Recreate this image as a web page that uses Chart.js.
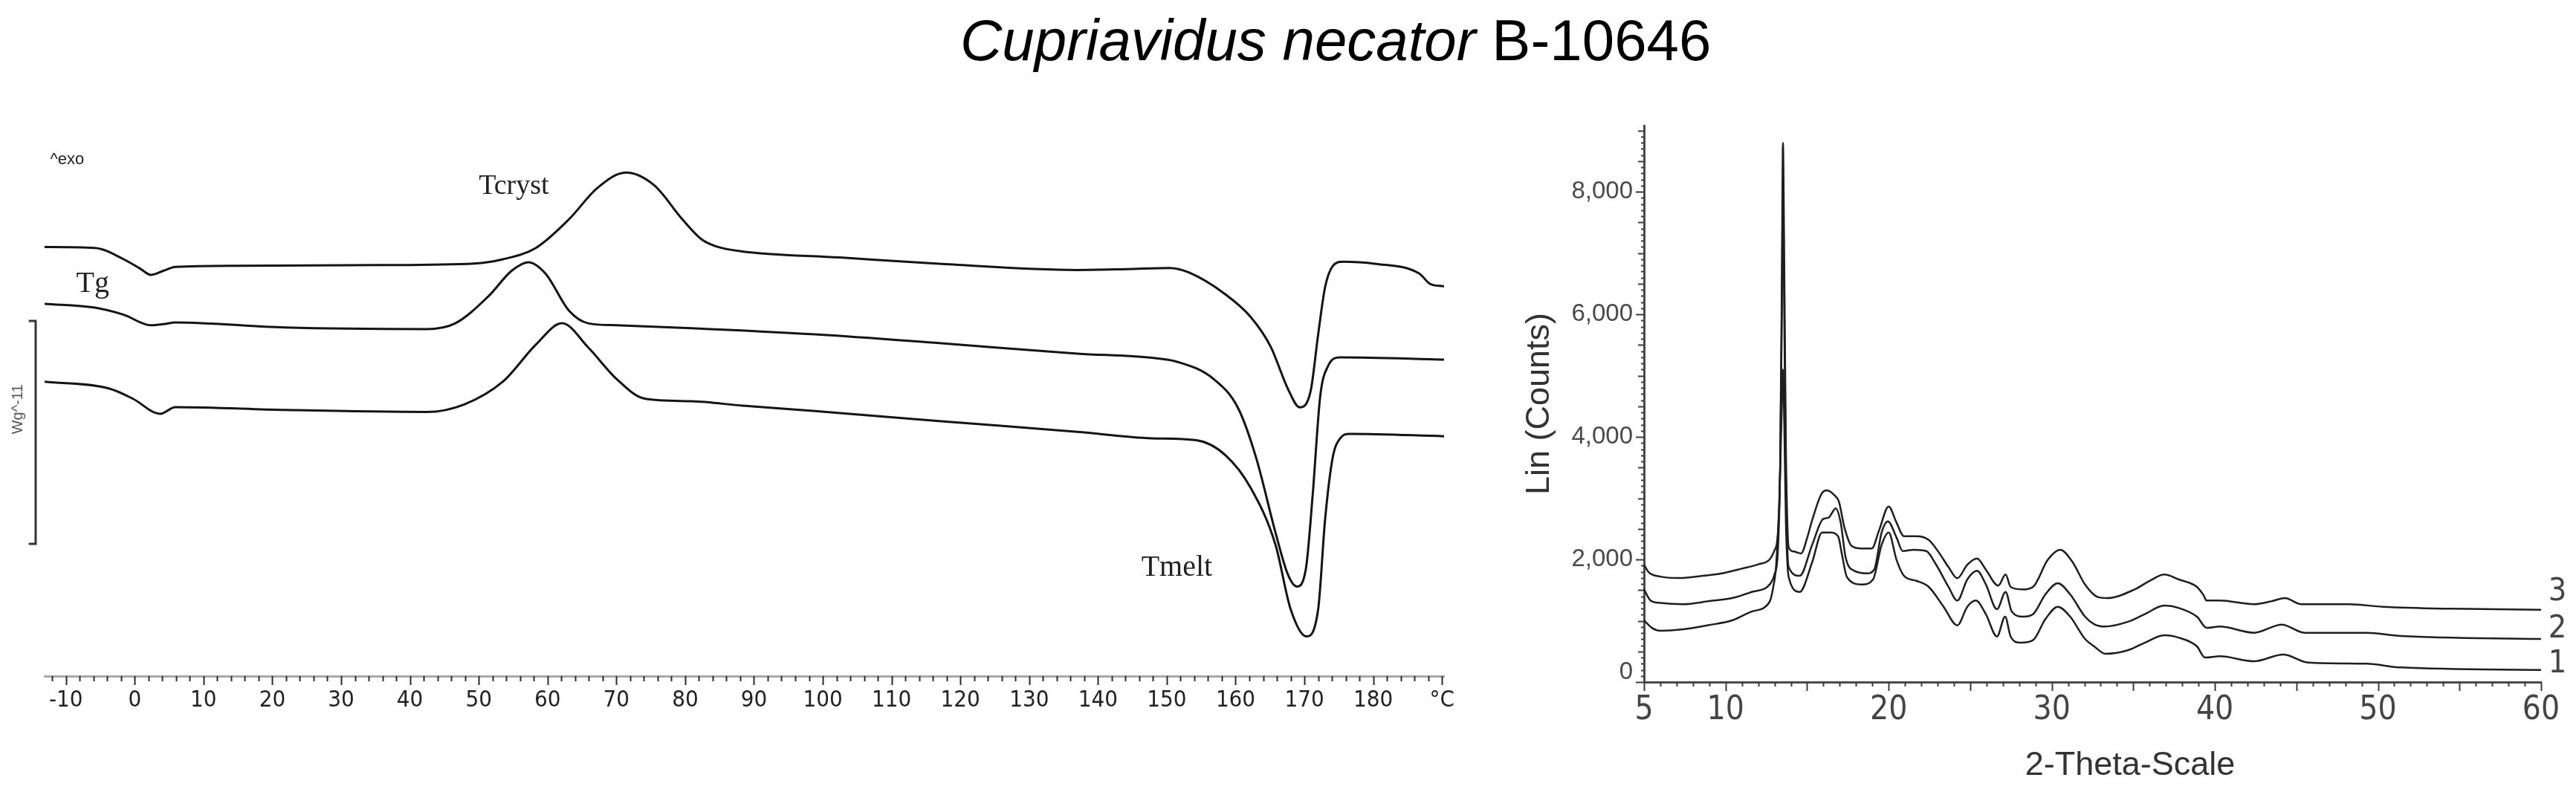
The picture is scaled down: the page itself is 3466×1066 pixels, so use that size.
<!DOCTYPE html>
<html>
<head>
<meta charset="utf-8">
<script src="https://cdn.jsdelivr.net/npm/chart.js@4.4.1/dist/chart.umd.min.js"></script>
<style>
  html, body { margin:0; padding:0; background:#ffffff; }
  body { width:3466px; height:1066px; position:relative; overflow:hidden; }
  #title { position:absolute; left:1292px; top:15px; font-family:'Liberation Sans', Arial, sans-serif; font-size:78px; line-height:78px; color:#000; white-space:nowrap; }
  #dsc { position:absolute; left:0; top:0; }
  #xrd { position:absolute; left:2000px; top:0; }
</style>
</head>
<body>
<div id="title"><i>Cupriavidus necator</i> B-10646</div>
<canvas id="dsc" width="1980" height="1066" style="width:1980px;height:1066px"></canvas>
<canvas id="xrd" width="1466" height="1066" style="width:1466px;height:1066px"></canvas>
<script>
// ---------- DSC data: temperature (°C), heat flow (W/g, offset traces) ----------
const dscTop = [[-13.1,1.925],[-5.8,1.921],[-1.6,1.870],[0.8,1.828],[2.35,1.800],[4.2,1.819],[5.9,1.836],[14.9,1.841],[35.5,1.844],[49.3,1.851],[53.5,1.870],[58.3,1.921],[63.1,2.049],[67.2,2.189],[71.4,2.259],[75.5,2.202],[79.6,2.049],[82.4,1.959],[84.5,1.928],[88.1,1.906],[102.5,1.878],[116.9,1.850],[137.0,1.822],[144.2,1.826],[150.4,1.831],[153.2,1.811],[158.6,1.711],[162.2,1.611],[165.1,1.478],[167.6,1.289],[169.3,1.206],[170.9,1.278],[172.0,1.533],[173.0,1.744],[174.1,1.839],[175.6,1.859],[180.2,1.850],[186.7,1.806],[188.2,1.761],[190.3,1.748]];
const dscMid = [[-13.1,1.670],[-5.8,1.653],[-1.6,1.621],[2.35,1.574],[4.2,1.579],[5.9,1.587],[21.8,1.564],[42.4,1.557],[46.6,1.583],[51.4,1.704],[54.8,1.819],[57.2,1.857],[59.7,1.806],[63.1,1.640],[65.9,1.583],[70.0,1.574],[80.9,1.561],[98.9,1.533],[116.9,1.494],[137.0,1.447],[147.8,1.428],[151.4,1.411],[156.8,1.333],[160.4,1.200],[163.0,0.978],[165.8,0.644],[167.6,0.456],[168.9,0.402],[170.2,0.478],[171.2,0.811],[172.3,1.256],[173.4,1.389],[175.2,1.430],[190.3,1.420]];
const dscBot = [[-13.1,1.321],[-3.7,1.290],[-0.3,1.245],[3.7,1.177],[5.9,1.207],[21.8,1.194],[42.4,1.185],[47.9,1.219],[53.5,1.321],[58.3,1.487],[62.1,1.583],[65.9,1.475],[70.0,1.334],[74.1,1.245],[80.9,1.233],[88.4,1.213],[98.9,1.189],[116.9,1.144],[137.0,1.096],[147.8,1.067],[154.3,1.058],[158.6,0.989],[162.2,0.844],[165.8,0.589],[168.0,0.300],[170.3,0.178],[172.0,0.300],[173.0,0.700],[174.1,0.978],[175.2,1.067],[176.6,1.087],[190.3,1.076]];
const dscTickValues = [-10,0,10,20,30,40,50,60,70,80,90,100,110,120,130,140,150,160,170,180,190];
const dscTickLabels = ['-10','0','10','20','30','40','50','60','70','80','90','100','110','120','130','140','150','160','170','180','°C'];
const dscNotes = [
  {text:'^exo',   x:-12.3, y:2.317, font:"22px 'Liberation Sans', Arial, sans-serif", base:'middle'},
  {text:'Tcryst', x:50.0,  y:2.163, font:"38px 'Liberation Serif', 'Times New Roman', serif", base:'alphabetic'},
  {text:'Tg',     x:-8.5,  y:1.723, font:"40px 'Liberation Serif', 'Times New Roman', serif", base:'alphabetic'},
  {text:'Tmelt',  x:146.3, y:0.450, font:"40px 'Liberation Serif', 'Times New Roman', serif", base:'alphabetic'}
];
const dscScaleBar = {x:-14.4, tickTo:-15.4, from:0.593, to:1.593, label:'Wg^-11', labelX:-16.9, labelY:1.197};

// ---------- XRD data: 2-theta (deg), counts ----------
const xrd3 = [[5.0,1915],[5.3,1790],[6.0,1720],[7.2,1697],[8.5,1730],[9.7,1770],[11.0,1850],[12.0,1920],[12.7,2000],[13.0,2150],[13.2,2400],[13.35,3600],[13.45,6500],[13.52,8800],[13.6,6800],[13.7,3800],[13.8,2500],[13.87,2198],[14.2,2130],[14.63,2097],[15.0,2350],[15.31,2642],[15.92,3087],[16.22,3127],[16.68,3046],[16.95,2945],[17.29,2521],[17.74,2218],[18.35,2178],[18.96,2178],[19.42,2481],[20.0,2865],[20.48,2602],[20.94,2380],[21.7,2380],[22.46,2319],[23.07,2117],[23.67,1875],[24.21,1693],[24.82,1915],[25.42,2016],[25.96,1834],[26.72,1572],[27.17,1754],[27.48,1552],[28.24,1511],[28.85,1552],[29.76,1996],[30.52,2158],[31.28,1955],[32.04,1592],[32.8,1390],[33.41,1370],[35.08,1511],[36.0,1650],[36.9,1754],[37.8,1673],[38.9,1552],[39.3,1420],[39.5,1329],[40.3,1329],[42.4,1269],[43.5,1320],[44.3,1370],[45.3,1269],[48.2,1269],[50.3,1228],[54.5,1196],[60.0,1180]];
const xrd2 = [[5.0,1515],[5.4,1330],[6.0,1290],[7.4,1270],[9.0,1320],[10.4,1370],[11.6,1470],[12.7,1590],[13.0,1757],[13.2,2100],[13.35,3500],[13.45,6000],[13.52,8150],[13.6,6000],[13.7,3300],[13.8,2100],[13.87,1875],[14.55,1733],[15.31,2238],[15.99,2663],[16.3,2680],[16.76,2835],[17.06,2600],[17.36,2036],[17.9,1814],[18.66,1774],[19.11,1834],[19.57,2440],[19.95,2622],[20.48,2360],[20.86,2137],[21.55,2158],[22.31,2137],[22.91,1915],[23.67,1552],[24.21,1329],[24.82,1673],[25.42,1814],[25.96,1592],[26.64,1188],[27.17,1471],[27.55,1148],[28.24,1067],[28.85,1107],[29.61,1430],[30.37,1612],[31.13,1430],[32.04,1067],[32.6,945],[33.25,905],[34.7,986],[35.7,1107],[36.9,1248],[37.8,1208],[38.9,1067],[39.5,885],[40.3,905],[42.4,804],[44.1,937],[45.5,804],[49.3,804],[51.4,752],[60.0,703]];
const xrd1 = [[5.0,1006],[5.5,880],[6.0,836],[7.4,860],[9.0,930],[10.4,1006],[11.6,1150],[12.7,1309],[12.9,1515],[13.1,1900],[13.3,3000],[13.45,4500],[13.52,5100],[13.6,4200],[13.7,2600],[13.8,1900],[13.87,1713],[14.55,1471],[15.31,1955],[15.92,2440],[16.4,2440],[16.9,2380],[17.14,2076],[17.44,1713],[18.35,1592],[19.04,1673],[19.57,2238],[20.0,2440],[20.48,1996],[20.94,1733],[21.7,1652],[22.46,1552],[23.37,1228],[24.21,925],[24.82,1228],[25.35,1329],[25.96,1107],[26.64,743],[27.14,1067],[27.48,743],[28.08,642],[28.85,683],[29.61,1027],[30.37,1228],[31.13,1067],[32.04,703],[32.6,582],[33.3,461],[34.7,521],[35.7,642],[36.9,764],[37.8,723],[38.9,582],[39.4,400],[40.3,420],[42.4,339],[44.2,448],[45.7,319],[49.3,299],[51.4,238],[60.0,198]];
const xrdXTicks = [5,10,20,30,40,50,60];
const xrdXLabels = ['5','10','20','30','40','50','60'];
const xrdYTicks = [0,2000,4000,6000,8000];
const xrdYLabels = ['0','2,000','4,000','6,000','8,000'];
const xrdSeriesLabels = [{text:'3', x:61.0, y:1467},{text:'2', x:61.0, y:861},{text:'1', x:61.0, y:291}];
const xrdXTitle = {text:'2-Theta-Scale', x:34.8, y:-1370};

const NARROW = "'Liberation Sans Narrow', 'DejaVu Sans Condensed', 'Liberation Sans', sans-serif";
const SANS = "'Liberation Sans', Arial, sans-serif";
const toXY = arr => arr.map(([x, y]) => ({x, y}));

// ---------- DSC chart ----------
const dscExtras = {
  id: 'dscExtras',
  afterDraw(chart) {
    const {ctx, chartArea} = chart;
    const x = chart.scales.x, y = chart.scales.y;
    ctx.save();
    ctx.strokeStyle = '#2b2b2b';
    ctx.lineWidth = 2;
    const ay = chartArea.bottom;
    for (let t = -12; t <= 190; t += 2) {
      const px = Math.round(x.getPixelForValue(t)) + 0.5;
      const len = (t % 10 === 0) ? 12 : 7;
      ctx.beginPath(); ctx.moveTo(px, ay); ctx.lineTo(px, ay + len); ctx.stroke();
    }
    ctx.fillStyle = '#222';
    dscNotes.forEach(n => {
      ctx.font = n.font; ctx.textAlign = 'left'; ctx.textBaseline = n.base;
      ctx.fillText(n.text, x.getPixelForValue(n.x), y.getPixelForValue(n.y));
    });
    const bx = x.getPixelForValue(dscScaleBar.x), tx = x.getPixelForValue(dscScaleBar.tickTo);
    const y1 = y.getPixelForValue(dscScaleBar.to), y0 = y.getPixelForValue(dscScaleBar.from);
    ctx.strokeStyle = '#333'; ctx.lineWidth = 3;
    ctx.beginPath(); ctx.moveTo(tx, y1); ctx.lineTo(bx, y1); ctx.lineTo(bx, y0); ctx.lineTo(tx, y0); ctx.stroke();
    ctx.save();
    ctx.translate(x.getPixelForValue(dscScaleBar.labelX), y.getPixelForValue(dscScaleBar.labelY));
    ctx.rotate(-Math.PI / 2);
    ctx.font = "20px " + SANS; ctx.fillStyle = '#555'; ctx.textAlign = 'center'; ctx.textBaseline = 'middle';
    ctx.fillText(dscScaleBar.label, 0, 0);
    ctx.restore();
    ctx.restore();
  }
};

const dscLine = {borderColor:'#141414', borderWidth:3, pointRadius:0, fill:false, cubicInterpolationMode:'monotone'};
new Chart(document.getElementById('dsc'), {
  type: 'line',
  data: { datasets: [
    Object.assign({label:'top', data: toXY(dscTop)}, dscLine),
    Object.assign({label:'middle', data: toXY(dscMid)}, dscLine),
    Object.assign({label:'bottom', data: toXY(dscBot)}, dscLine)
  ]},
  options: {
    responsive:false, animation:false, events:[],
    layout: { autoPadding:false, padding:{left:60, right:37, top:150, bottom:0} },
    plugins: { legend:{display:false}, tooltip:{enabled:false}, title:{display:false} },
    scales: {
      x: {
        type:'linear', min:-13.1, max:190.3, position:'bottom',
        afterBuildTicks: s => { s.ticks = dscTickValues.map(v => ({value:v})); },
        afterFit: s => { s.height = 156; },
        grid: { display:false, drawTicks:false },
        border: { display:true, color:'#a9a9a9', width:3 },
        ticks: { autoSkip:false, maxRotation:0, minRotation:0, padding:14, color:'#222',
          font:{ family:NARROW, size:31 },
          callback: (v, i) => dscTickLabels[i] }
      },
      y: { type:'linear', display:false, min:0, max:2.5333 }
    }
  },
  plugins: [dscExtras]
});

// ---------- XRD chart ----------
const xrdExtras = {
  id: 'xrdExtras',
  afterDraw(chart) {
    const {ctx, chartArea} = chart;
    const x = chart.scales.x, y = chart.scales.y;
    ctx.save();
    ctx.strokeStyle = '#3a3a3a';
    ctx.lineWidth = 2;
    const ax = chartArea.left, ay = chartArea.bottom;
    for (let c = 0; c <= 9000; c += 100) {
      const py = Math.round(y.getPixelForValue(c)) + 0.5;
      const len = (c % 2000 === 0) ? 11 : (c % 500 === 0 ? 8 : 4);
      ctx.beginPath(); ctx.moveTo(ax - len, py); ctx.lineTo(ax, py); ctx.stroke();
    }
    for (let t = 5; t <= 60; t += 1) {
      const px = Math.round(x.getPixelForValue(t)) + 0.5;
      const len = (t % 5 === 0) ? 12 : 6;
      ctx.beginPath(); ctx.moveTo(px, ay); ctx.lineTo(px, ay + len); ctx.stroke();
    }
    ctx.fillStyle = '#333';
    ctx.font = "45px " + SANS; ctx.textAlign = 'center'; ctx.textBaseline = 'middle';
    ctx.fillText(xrdXTitle.text, x.getPixelForValue(xrdXTitle.x), y.getPixelForValue(xrdXTitle.y));
    ctx.font = "43px " + NARROW; ctx.fillStyle = '#444';
    xrdSeriesLabels.forEach(l => ctx.fillText(l.text, x.getPixelForValue(l.x), y.getPixelForValue(l.y)));
    ctx.restore();
  }
};

const xrdLine = {borderColor:'#1e1e1e', borderWidth:2.5, pointRadius:0, fill:false, cubicInterpolationMode:'monotone'};
new Chart(document.getElementById('xrd'), {
  type: 'line',
  data: { datasets: [
    Object.assign({label:'3', data: toXY(xrd3)}, xrdLine),
    Object.assign({label:'2', data: toXY(xrd2)}, xrdLine),
    Object.assign({label:'1', data: toXY(xrd1)}, xrdLine)
  ]},
  options: {
    responsive:false, animation:false, events:[],
    layout: { autoPadding:false, padding:{left:0, right:47, top:169, bottom:0} },
    plugins: { legend:{display:false}, tooltip:{enabled:false}, title:{display:false} },
    scales: {
      x: {
        type:'linear', min:5, max:60, position:'bottom',
        afterBuildTicks: s => { s.ticks = xrdXTicks.map(v => ({value:v})); },
        afterFit: s => { s.height = 148; },
        grid: { display:false, drawTicks:false },
        border: { display:true, color:'#4a4a4a', width:3 },
        ticks: { autoSkip:false, maxRotation:0, minRotation:0, padding:12, color:'#444',
          font:{ family:NARROW, size:44 },
          callback: (v, i) => xrdXLabels[i] }
      },
      y: {
        type:'linear', min:0, max:9080, position:'left',
        afterBuildTicks: s => { s.ticks = xrdYTicks.map(v => ({value:v})); },
        afterFit: s => { s.width = 212; },
        grid: { display:false, drawTicks:false },
        border: { display:true, color:'#4a4a4a', width:3 },
        title: { display:true, text:'Lin (Counts)', color:'#333', font:{ family:SANS, size:45 }, padding:{top:45, bottom:0} },
        ticks: { autoSkip:false, padding:15, color:'#4a4a4a',
          font:{ family:SANS, size:33, lineHeight:0.8 },
          callback: (v, i) => i === 0 ? [xrdYLabels[0], ''] : xrdYLabels[i] }
      }
    }
  },
  plugins: [xrdExtras]
});
</script>
</body>
</html>
